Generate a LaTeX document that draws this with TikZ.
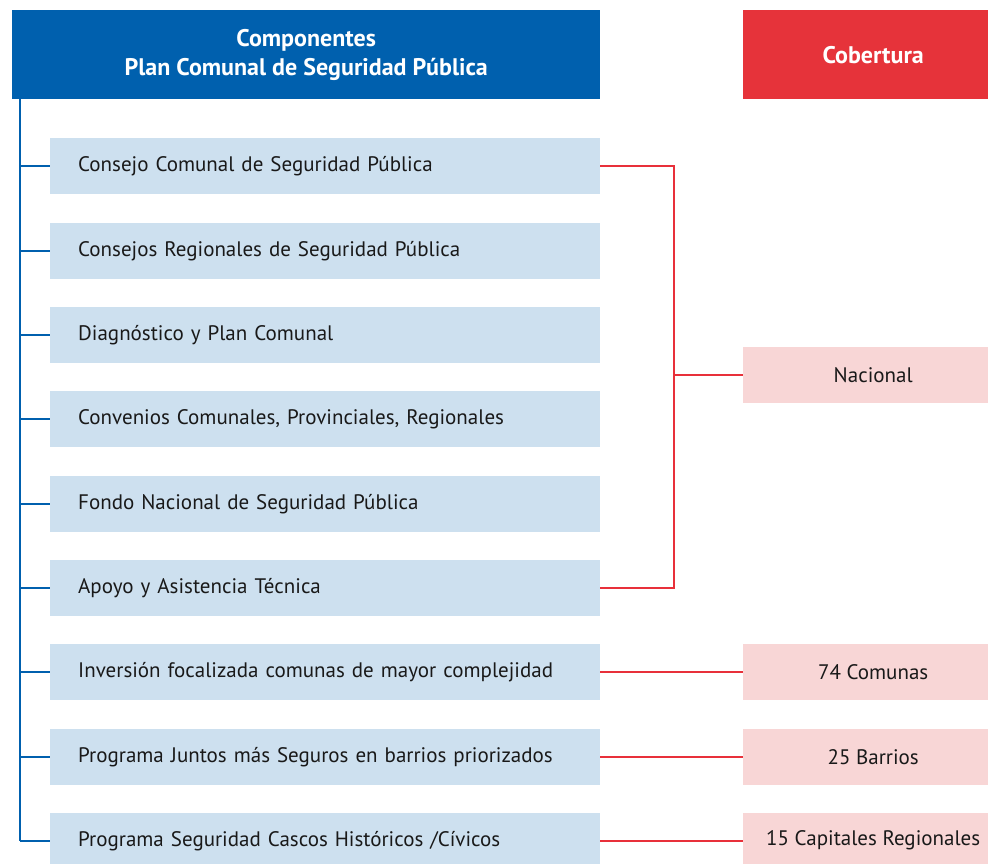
\documentclass[tikz,border=0pt]{standalone}
\usepackage{fontspec}
\setmainfont{PT Sans}
\definecolor{hblue}{RGB}{0,96,174}
\definecolor{hred}{RGB}{230,51,58}
\definecolor{lblue}{RGB}{205,224,239}
\definecolor{lpink}{RGB}{248,214,214}
\definecolor{lred}{RGB}{232,48,58}
\tikzset{
  comp/.style={fill=lblue, anchor=north west, minimum width=550pt, minimum height=56pt, inner xsep=28pt, inner ysep=0pt, text width=494pt, align=left, font=\fontsize{21}{25}\selectfont, text=black!90},
  cov/.style={fill=lpink, anchor=north west, minimum width=260pt, minimum height=56pt, inner sep=0pt, align=center, font=\fontsize{21}{25}\selectfont, text=black!90},
  headbox/.style={anchor=north west, minimum height=89pt, inner sep=0pt, align=center, text=white, font=\bfseries\fontsize{24}{29}\selectfont},
  bline/.style={draw=hblue, line width=1.6pt},
  rline/.style={draw=lred, line width=1.6pt}
}
\begin{document}
\begin{tikzpicture}[x=1pt,y=-1pt]
\useasboundingbox (0,0) rectangle (988,864);
\clip (0,0) rectangle (988,864);
\node[headbox, fill=hblue, minimum width=588pt] (head) at (12,10) {Componentes\\Plan Comunal de Seguridad Pública};
\node[headbox, fill=hred, minimum width=260pt] (cob) at (743,10) {Cobertura};
\node[comp] (c1) at (50,138) {Consejo Comunal de Seguridad Pública};
\node[comp] (c2) at (50,222.5) {Consejos Regionales de Seguridad Pública};
\node[comp] (c3) at (50,307) {Diagnóstico y Plan Comunal};
\node[comp] (c4) at (50,391) {Convenios Comunales, Provinciales, Regionales};
\node[comp] (c5) at (50,475.5) {Fondo Nacional de Seguridad Pública};
\node[comp] (c6) at (50,560) {Apoyo y Asistencia Técnica};
\node[comp] (c7) at (50,644) {Inversión focalizada comunas de mayor complejidad};
\node[comp] (c8) at (50,728.5) {Programa Juntos más Seguros en barrios priorizados};
\node[comp] (c9) at (50,812.5) {Programa Seguridad Cascos Históricos /Cívicos};
\node[cov] (nac) at (743,347) {Nacional};
\node[cov] (k74) at (743,644) {74 Comunas};
\node[cov] (k25) at (743,728.5) {25 Barrios};
\node[cov] (k15) at (743,812.5) {15 Capitales Regionales};
\coordinate (sp) at (20,99);
\coordinate (rj) at (674,166);
\draw[bline] (sp) -- (sp |- c9.west);
\foreach \i in {1,...,9}{\draw[bline] (sp |- c\i.west) -- (c\i.west);}
\draw[rline] (c1.east) -- (rj |- c1.east) -- (rj |- c6.east) -- (c6.east);
\draw[rline] (rj |- nac.west) -- (nac.west);
\draw[rline] (c7.east) -- (k74.west);
\draw[rline] (c8.east) -- (k25.west);
\draw[rline] (c9.east) -- (k15.west);
\end{tikzpicture}
\end{document}
